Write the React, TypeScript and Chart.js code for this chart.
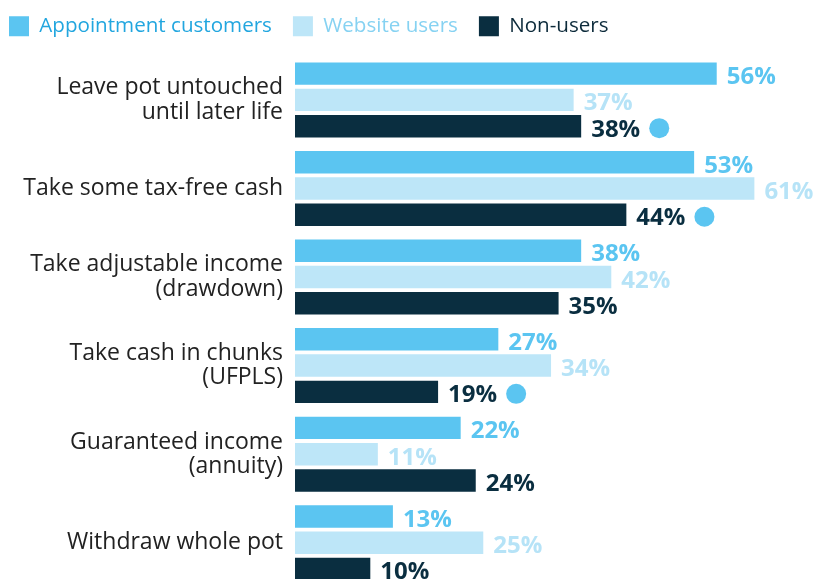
import React, { useEffect, useRef } from "react";
import { Chart, registerables } from "chart.js";

Chart.register(...registerables);

const categories: (string | string[])[] = [
  ["Leave pot untouched", "until later life"],
  "Take some tax-free cash",
  ["Take adjustable income", "(drawdown)"],
  ["Take cash in chunks", "(UFPLS)"],
  ["Guaranteed income", "(annuity)"],
  "Withdraw whole pot",
];
const seriesNames = ["Appointment customers", "Website users", "Non-users"];
const appointmentCustomers = [56, 53, 38, 27, 22, 13];
const websiteUsers = [37, 61, 42, 34, 11, 25];
const nonUsers = [38, 44, 35, 19, 24, 10];
const nonUsersSignificant = [true, true, false, true, false, false];

const barColors = ["#5bc5f1", "#bde6f8", "#0a2e40"];
const legendTextColors = ["#22a6df", "#86d2f2", "#0d2b3b"];
const labelColors = ["#5bc5f1", "#b6e3f7", "#0a2e40"];
const dotColor = "#5bc5f1";
const FONT = "'Segoe UI', 'Open Sans', sans-serif";

const valueLabels = {
  id: "valueLabels",
  afterInit(chart: any) {
    const legend = chart.legend;
    if (legend && !legend.__patched) {
      const origFit = legend.fit.bind(legend);
      legend.fit = function () {
        origFit();
        this.height += 9;
      };
      legend.__patched = true;
    }
  },
  afterDatasetsDraw(chart: any) {
    const ctx = chart.ctx;
    ctx.save();
    ctx.font = `bold 24px ${FONT}`;
    ctx.textAlign = "left";
    ctx.textBaseline = "alphabetic";
    chart.data.datasets.forEach((ds: any, i: number) => {
      const meta = chart.getDatasetMeta(i);
      meta.data.forEach((bar: any, j: number) => {
        const text = `${ds.data[j]}%`;
        const x = bar.x + 10;
        const y = bar.y + 10.5;
        ctx.fillStyle = labelColors[i];
        ctx.fillText(text, x, y);
        if (i === 2 && nonUsersSignificant[j]) {
          const w = ctx.measureText(text).width;
          ctx.beginPath();
          ctx.arc(x + w + 19, bar.y + 2, 10, 0, Math.PI * 2);
          ctx.fillStyle = dotColor;
          ctx.fill();
        }
      });
    });
    ctx.restore();
  },
};

export default function App() {
  const ref = useRef<HTMLCanvasElement>(null);
  useEffect(() => {
    if (!ref.current) return;
    const chart = new Chart(ref.current, {
      type: "bar",
      data: {
        labels: categories,
        datasets: [appointmentCustomers, websiteUsers, nonUsers].map((d, i) => ({
          label: seriesNames[i],
          data: d,
          backgroundColor: barColors[i],
          borderWidth: 0,
          categoryPercentage: 0.89,
          barPercentage: 0.855,
        })),
      },
      options: {
        indexAxis: "y",
        animation: false,
        responsive: false,
        maintainAspectRatio: false,
        devicePixelRatio: 1,
        layout: { padding: { top: 0, right: 31.5, bottom: 10, left: 0 } },
        plugins: {
          legend: {
            display: true,
            position: "top",
            align: "start",
            labels: {
              boxWidth: 20,
              boxHeight: 20,
              padding: 21,
              font: { family: FONT, size: 20.6 },
              generateLabels: (chart: any) =>
                chart.data.datasets.map((ds: any, i: number) => ({
                  text: ds.label,
                  fillStyle: barColors[i],
                  strokeStyle: barColors[i],
                  lineWidth: 0,
                  fontColor: legendTextColors[i],
                  hidden: false,
                  datasetIndex: i,
                })),
            },
          },
          tooltip: { enabled: false },
        },
        scales: {
          x: {
            display: false,
            min: 0,
            max: 65,
            grid: { display: false },
          },
          y: {
            grid: { display: false, drawTicks: false },
            border: { display: false },
            ticks: {
              color: "#222222",
              padding: 12,
              font: { family: FONT, size: 23, lineHeight: 1.05 },
            },
            afterFit: (axis: any) => {
              axis.width = 307;
              axis.paddingTop = 0;
              axis.paddingBottom = 0;
            },
          },
        },
      },
      plugins: [valueLabels],
    });
    return () => chart.destroy();
  }, []);
  return (
    <div
      style={{
        position: "fixed",
        left: 0,
        top: 0,
        width: 816,
        height: 579,
        overflow: "hidden",
        background: "#ffffff",
      }}
    >
      <canvas
        ref={ref}
        width={828}
        height={602}
        style={{ position: "absolute", left: -12, top: -5, width: 828, height: 602 }}
      />
    </div>
  );
}
